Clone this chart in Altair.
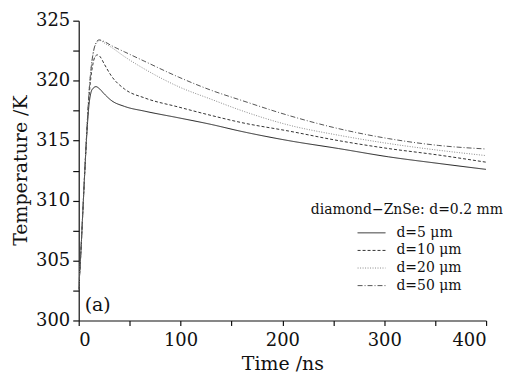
import altair as alt
import pandas as pd

# time (ns) and temperature (K)
t5 = [0, 2, 4, 6, 8, 10, 12, 14, 17, 20, 25, 32, 45, 65, 98, 130, 158, 206, 255, 304, 353, 400]
T5 = [302.6, 305.5, 309.0, 312.5, 315.6, 317.9, 319.0, 319.35, 319.5, 319.35, 318.9, 318.35, 317.85, 317.45, 316.9, 316.35, 315.8, 315.0, 314.34, 313.65, 313.1, 312.6]

t10 = [0, 2, 4, 6, 8, 10, 12, 14, 16, 18.5, 21, 25, 32, 45, 65, 98, 130, 160, 206, 255, 304, 353, 400]
T10 = [302.6, 305.5, 309.0, 312.5, 315.8, 318.5, 320.3, 321.4, 322.0, 322.15, 322.0, 321.4, 320.4, 319.3, 318.55, 317.8, 317.1, 316.5, 315.8, 315.0, 314.34, 313.8, 313.2]

t20 = [0, 2, 4, 6, 8, 10, 12, 14, 16, 18, 21, 25, 32.6, 45, 65, 98, 130, 160, 206, 255, 304, 353, 400]
T20 = [302.6, 305.5, 309.0, 312.5, 315.9, 318.9, 320.9, 322.2, 322.9, 323.2, 323.34, 323.15, 322.75, 322.0, 320.95, 319.5, 318.45, 317.5, 316.3, 315.45, 314.76, 314.2, 313.75]

t50 = [0, 2, 4, 6, 8, 10, 12, 14, 16, 18, 20, 24, 32.6, 45, 65, 98, 130, 160, 206, 255, 304, 353, 400]
T50 = [302.6, 305.5, 309.0, 312.5, 315.9, 318.9, 320.9, 322.2, 322.95, 323.3, 323.4, 323.3, 322.9, 322.4, 321.6, 320.3, 319.2, 318.35, 317.1, 316.0, 315.17, 314.6, 314.3]

series = ["d=5 μm", "d=10 μm", "d=20 μm", "d=50 μm"]
x_ticks = [0, 50, 100, 150, 200, 250, 300, 350, 400]
y_ticks = [300, 302.5, 305, 307.5, 310, 312.5, 315, 317.5, 320, 322.5, 325]

rows = []
for name, ts, Ts in zip(series, [t5, t10, t20, t50], [T5, T10, T20, T50]):
    for a, b in zip(ts, Ts):
        rows.append({"series": name, "t": a, "T": b})
df = pd.DataFrame(rows)
leg_df = pd.DataFrame({"series": series})

FONT = "DejaVu Serif"

color_scale = alt.Scale(domain=series, range=["#222222", "#333333", "#8a8a8a", "#555555"])
dash_scale = alt.Scale(domain=series, range=[[1, 0], [3, 2], [1, 1.5], [5, 2, 1, 2]])

x_enc = alt.X("t:Q", scale=alt.Scale(domain=[0, 400], nice=False),
              axis=alt.Axis(title="Time /ns", values=x_ticks,
                            labelExpr="datum.value % 100 == 0 ? datum.label : ''",
                            grid=False, tickSize=5, labelPadding=6,
                            titleY=49, titleBaseline="alphabetic"))
y_enc = alt.Y("T:Q", scale=alt.Scale(domain=[300, 325], nice=False, zero=False),
              axis=alt.Axis(title="Temperature /K", values=y_ticks,
                            labelExpr="datum.value % 5 == 0 ? datum.label : ''",
                            grid=False, tickSize=6, labelPadding=3,
                            titleX=-52, titleY=150, titleAlign="center",
                            titleBaseline="alphabetic"))

lines = alt.Chart(df).mark_line(strokeWidth=1, clip=True, interpolate="monotone").encode(
    x=x_enc, y=y_enc,
    color=alt.Color("series:N", sort=series, scale=color_scale, legend=None),
    strokeDash=alt.StrokeDash("series:N", sort=series, scale=dash_scale, legend=None),
)

# legend built from the series list: one row per series
leg_y = alt.Y("series:N", sort=series,
              scale=alt.Scale(type="point", domain=series, range=[213, 266], padding=0),
              axis=None)
leg_rules = alt.Chart(leg_df).mark_rule(strokeWidth=1).encode(
    x=alt.value(280), x2=alt.value(308), y=leg_y,
    color=alt.Color("series:N", sort=series, scale=color_scale, legend=None),
    strokeDash=alt.StrokeDash("series:N", sort=series, scale=dash_scale, legend=None),
)
leg_text = alt.Chart(leg_df).mark_text(
    font=FONT, fontSize=14, align="left", baseline="middle", color="#111"
).encode(x=alt.value(319), y=leg_y, text="series:N")

title_txt = alt.Chart(pd.DataFrame({"s": ["diamond−ZnSe: d=0.2 mm"]})).mark_text(
    font=FONT, fontSize=14, align="left", baseline="middle", color="#111"
).encode(x=alt.value(233), y=alt.value(190), text="s:N")

a_txt = alt.Chart(pd.DataFrame({"s": ["(a)"]})).mark_text(
    font=FONT, fontSize=19, align="left", baseline="middle", color="#111"
).encode(x=alt.value(6), y=alt.value(285), text="s:N")

chart = alt.layer(lines, leg_rules, leg_text, title_txt, a_txt).resolve_scale(
    y="independent"
).properties(
    width=409, height=301,
    autosize=alt.AutoSizeParams(type="none"),
    padding={"left": 71, "top": 12, "right": 17, "bottom": 52},
).configure_view(stroke=None).configure_axis(
    labelFont=FONT, titleFont=FONT, labelFontSize=18, titleFontSize=19,
    titleFontWeight="normal", labelColor="#111", titleColor="#111",
    domainColor="#111", tickColor="#111", domainWidth=1.2, tickWidth=1.2,
)

chart.save("out.html", embed_options={"renderer": "svg", "actions": False})
